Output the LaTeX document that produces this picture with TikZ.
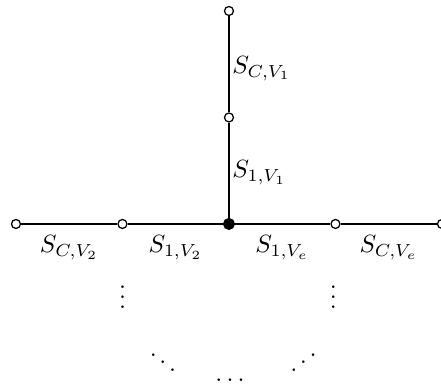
\documentclass[tikz,border=0pt]{standalone}
\usepackage{graphicx}
\begin{document}
\begin{tikzpicture}[x=1.5cm,y=1.5cm,
  opendot/.style={circle,draw,fill=white,inner sep=0pt,minimum size=3.6pt,line width=0.5pt},
  filldot/.style={circle,draw,fill=black,inner sep=0pt,minimum size=4.4pt},
  edge/.style={line width=0.5pt},
  lbl/.style={inner sep=2pt}]
\useasboundingbox (-2.150,-1.512) rectangle (1.991,2.103);
\coordinate (o) at (0,0);
\node[opendot] (t) at (0,2) {};
\node[opendot] (m) at (0,1) {};
\node[opendot] (l2) at (-2,0) {};
\node[opendot] (l1) at (-1,0) {};
\node[opendot] (r1) at (1,0) {};
\node[opendot] (r2) at (2,0) {};
\draw[edge] (t) -- (m);
\draw[edge] (m) -- (o);
\draw[edge] (l2) -- (l1);
\draw[edge] (l1) -- (o);
\draw[edge] (o) -- (r1);
\draw[edge] (r1) -- (r2);
\node[filldot] (c) at (o) {};
\node[lbl,anchor=west] (a1) at (-0.02,1.46) {$S_{C,V_1}$};
\node[lbl,anchor=west] (a2) at (-0.02,0.48) {$S_{1,V_1}$};
\node[lbl,anchor=north] (b1) at (-1.5,-0.06) {$S_{C,V_2}$};
\node[lbl,anchor=north] (b2) at (-0.5,-0.06) {$S_{1,V_2}$};
\node[lbl,anchor=north] (b3) at (0.5,-0.06) {$S_{1,V_e}$};
\node[lbl,anchor=north] (b4) at (1.5,-0.06) {$S_{C,V_e}$};
\node[inner sep=0pt] (v1) at (-1,-0.62) {$\vdots$};
\node[inner sep=0pt] (v2) at (0.98,-0.62) {$\vdots$};
\node[inner sep=0pt] (d1) at (-0.62,-1.23) {$\ddots$};
\node[inner sep=0pt] (d2) at (0.01,-1.465) {$\dots$};
\node[inner sep=0pt] (d3) at (0.70,-1.23) {\reflectbox{$\ddots$}};
\end{tikzpicture}
\end{document}
